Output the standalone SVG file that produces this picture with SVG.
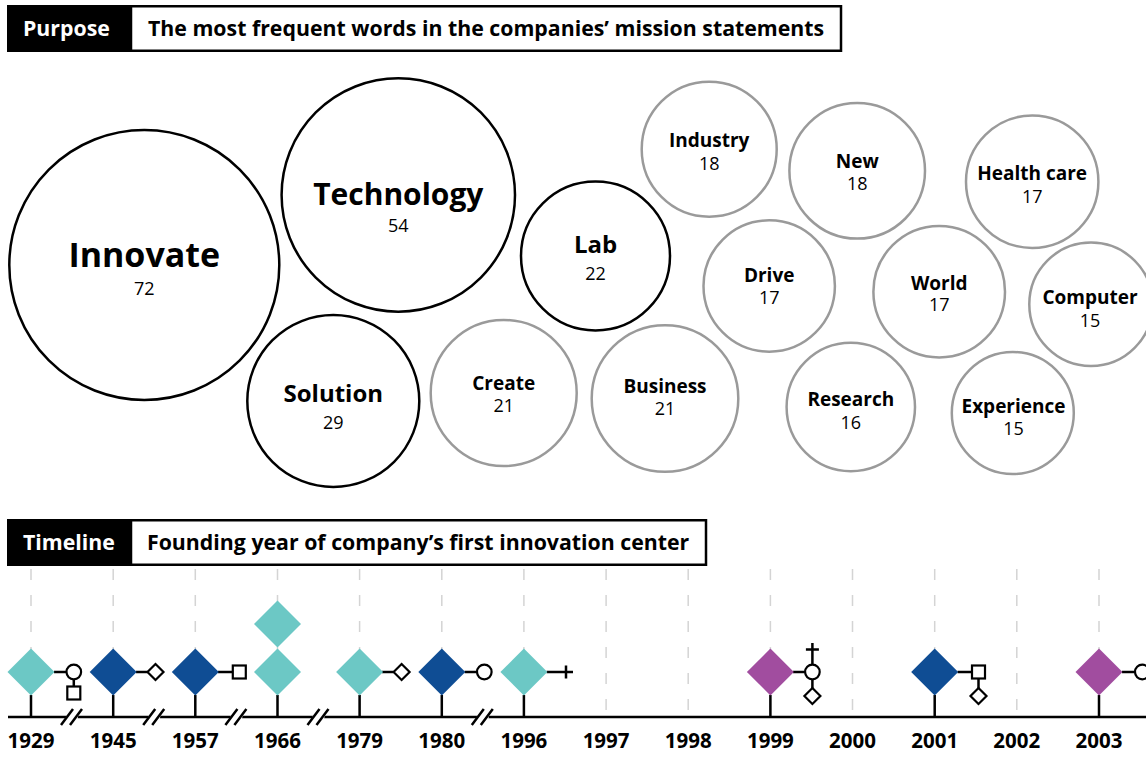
<svg xmlns="http://www.w3.org/2000/svg" xmlns:xlink="http://www.w3.org/1999/xlink" width="1146" height="763" viewBox="0 0 1146 763">
<style>
text{font-family:"Open Sans","Noto Sans","Liberation Sans",sans-serif;}
.lbl{font-weight:700;text-anchor:middle;fill:#000;}
.num{font-weight:400;font-size:18px;text-anchor:middle;fill:#000;}
.bk{fill:#fff;stroke:#000;stroke-width:2.5;}
.gy{fill:#fff;stroke:#9a9a9a;stroke-width:2.5;}
.hd{font-weight:700;font-size:21.3px;}
.yr{font-weight:700;font-size:20.5px;text-anchor:middle;fill:#000;}
.dash{stroke:#d4d4d4;stroke-width:1.5;stroke-dasharray:11 15;fill:none;}
.ln{stroke:#000;stroke-width:2.5;fill:none;}
.sym{fill:#fff;stroke:#000;stroke-width:2.2;}
.teal{fill:#6cc8c5;}
.blue{fill:#0f4d94;}
.purp{fill:#a14d9f;}
</style>
<defs>
<path id="dia" d="M0,-23.5L23.5,0L0,23.5L-23.5,0Z"/>
<path id="sdia" d="M0,-8L8,0L0,8L-8,0Z"/>
<g id="brk">
<path d="M-6,-4L6,-4L4,4L-8,4Z" fill="#fff" transform="translate(1,0)"/>
<path d="M-11,8L1,-8M-2,8L10,-8" stroke="#000" stroke-width="2.5"/>
</g>
</defs>
<rect width="1146" height="763" fill="#fff"/>

<g id="header-purpose">
<rect x="7" y="5" width="125" height="47" fill="#000"/>
<rect x="131" y="6.25" width="710" height="44.5" class="bk"/>
<text x="23" y="35.5" class="hd" fill="#fff">Purpose</text>
<text x="148" y="35.5" class="hd" fill="#000">The most frequent words in the companies’ mission statements</text>
</g>

<g id="bubble-innovate"><circle cx="144.3" cy="265" r="135" class="bk"/><text x="144.3" y="267" class="lbl" font-size="34">Innovate</text><text x="144.3" y="295" class="num">72</text></g>
<g id="bubble-technology"><circle cx="398.3" cy="195" r="116.7" class="bk"/><text x="398.3" y="205" class="lbl" font-size="30">Technology</text><text x="398.3" y="232" class="num">54</text></g>
<g id="bubble-solution"><circle cx="333.3" cy="401" r="86" class="bk"/><text x="333.3" y="402" class="lbl" font-size="24">Solution</text><text x="333.3" y="428.5" class="num">29</text></g>
<g id="bubble-lab"><circle cx="595.5" cy="256" r="74.5" class="bk"/><text x="595.5" y="253" class="lbl" font-size="24">Lab</text><text x="595.5" y="279.5" class="num">22</text></g>
<g id="bubble-industry"><circle cx="709.2" cy="149.2" r="67.5" class="gy"/><text x="709.2" y="147" class="lbl" font-size="19">Industry</text><text x="709.2" y="169.5" class="num">18</text></g>
<g id="bubble-new"><circle cx="857.2" cy="170.8" r="67.8" class="gy"/><text x="857.2" y="167.5" class="lbl" font-size="19">New</text><text x="857.2" y="190" class="num">18</text></g>
<g id="bubble-drive"><circle cx="769.2" cy="286" r="65.7" class="gy"/><text x="769.2" y="282" class="lbl" font-size="19">Drive</text><text x="769.2" y="303.5" class="num">17</text></g>
<g id="bubble-create"><circle cx="503.7" cy="393" r="73" class="gy"/><text x="503.7" y="390" class="lbl" font-size="19">Create</text><text x="503.7" y="412" class="num">21</text></g>
<g id="bubble-business"><circle cx="665" cy="398.5" r="73.3" class="gy"/><text x="665" y="393" class="lbl" font-size="19">Business</text><text x="665" y="415" class="num">21</text></g>
<g id="bubble-research"><circle cx="850.8" cy="407" r="64.2" class="gy"/><text x="850.8" y="406" class="lbl" font-size="19">Research</text><text x="850.8" y="428.5" class="num">16</text></g>
<g id="bubble-world"><circle cx="939.2" cy="291.7" r="65.8" class="gy"/><text x="939.2" y="289.5" class="lbl" font-size="19">World</text><text x="939.2" y="311" class="num">17</text></g>
<g id="bubble-healthcare"><circle cx="1032.2" cy="181.7" r="66.2" class="gy"/><text x="1032.2" y="180" class="lbl" font-size="19">Health care</text><text x="1032.2" y="203" class="num">17</text></g>
<g id="bubble-computer"><circle cx="1091" cy="304.3" r="61.7" class="gy"/><text x="1090" y="304" class="lbl" font-size="19">Computer</text><text x="1090" y="327" class="num">15</text></g>
<g id="bubble-experience"><circle cx="1012.8" cy="413" r="61" class="gy"/><text x="1013.5" y="413" class="lbl" font-size="19">Experience</text><text x="1013.5" y="435" class="num">15</text></g>

<g id="header-timeline">
<rect x="7" y="519" width="125" height="47" fill="#000"/>
<rect x="131" y="520.25" width="575" height="44.5" class="bk"/>
<text x="23" y="549.5" class="hd" fill="#fff">Timeline</text>
<text x="147" y="549.5" class="hd" fill="#000">Founding year of company’s first innovation center</text>
</g>

<g id="gridlines">
<line x1="31" y1="569" x2="31" y2="717" class="dash"/>
<line x1="113.2" y1="569" x2="113.2" y2="717" class="dash"/>
<line x1="195.3" y1="569" x2="195.3" y2="717" class="dash"/>
<line x1="277.5" y1="569" x2="277.5" y2="717" class="dash"/>
<line x1="359.6" y1="569" x2="359.6" y2="717" class="dash"/>
<line x1="441.8" y1="569" x2="441.8" y2="717" class="dash"/>
<line x1="523.9" y1="569" x2="523.9" y2="717" class="dash"/>
<line x1="606.1" y1="569" x2="606.1" y2="717" class="dash"/>
<line x1="688.2" y1="569" x2="688.2" y2="717" class="dash"/>
<line x1="770.4" y1="569" x2="770.4" y2="717" class="dash"/>
<line x1="852.5" y1="569" x2="852.5" y2="717" class="dash"/>
<line x1="934.7" y1="569" x2="934.7" y2="717" class="dash"/>
<line x1="1016.8" y1="569" x2="1016.8" y2="717" class="dash"/>
<line x1="1099" y1="569" x2="1099" y2="717" class="dash"/>
</g>

<g id="connectors">
<line x1="8" y1="717" x2="1146" y2="717" class="ln"/>
<use xlink:href="#brk" href="#brk" x="72" y="717"/>
<use xlink:href="#brk" href="#brk" x="154.2" y="717"/>
<use xlink:href="#brk" href="#brk" x="236.4" y="717"/>
<use xlink:href="#brk" href="#brk" x="318.5" y="717"/>
<use xlink:href="#brk" href="#brk" x="482.8" y="717"/>
<path class="ln" d="M31,695V717M113.2,695V717M195.3,695V717M277.5,695V717M359.6,695V717M441.8,695V717M523.9,695V717M770.4,695V717M934.7,695V717M1099,695V717"/>
<path class="ln" d="M54,672H66.7M73.8,679V686.5"/>
<path class="ln" d="M136,672H147.5"/>
<path class="ln" d="M218,672H232.8"/>
<path class="ln" d="M382,672H393.6"/>
<path class="ln" d="M464.5,672H477"/>
<path class="ln" d="M546.5,672H573M566,665.5V678.5"/>
<path class="ln" d="M793,672H805.1M812.4,664.7V643M805.9,649.5H818.9M812.4,679.3V688"/>
<path class="ln" d="M957.5,672H972M978.5,678.5V688"/>
<path class="ln" d="M1122,672H1135"/>
</g>

<g id="year-1929"><use href="#dia" x="31" y="672" class="teal"/><circle cx="73.8" cy="672" r="7.3" class="sym"/><rect x="67.3" y="686.5" width="13" height="13" class="sym"/><text x="31" y="748" class="yr">1929</text></g>
<g id="year-1945"><use href="#dia" x="113.2" y="672" class="blue"/><use href="#sdia" x="155.5" y="672" class="sym"/><text x="113.2" y="748" class="yr">1945</text></g>
<g id="year-1957"><use href="#dia" x="195.3" y="672" class="blue"/><rect x="232.8" y="665.5" width="13" height="13" class="sym"/><text x="195.3" y="748" class="yr">1957</text></g>
<g id="year-1966"><use href="#dia" x="277.5" y="624" class="teal"/><use href="#dia" x="277.5" y="672" class="teal"/><text x="277.5" y="748" class="yr">1966</text></g>
<g id="year-1979"><use href="#dia" x="359.6" y="672" class="teal"/><use href="#sdia" x="401.6" y="672" class="sym"/><text x="359.6" y="748" class="yr">1979</text></g>
<g id="year-1980"><use href="#dia" x="441.8" y="672" class="blue"/><circle cx="484.3" cy="672" r="7.3" class="sym"/><text x="441.8" y="748" class="yr">1980</text></g>
<g id="year-1996"><use href="#dia" x="523.9" y="672" class="teal"/><text x="523.9" y="748" class="yr">1996</text></g>
<g id="year-1997"><text x="606.1" y="748" class="yr">1997</text></g>
<g id="year-1998"><text x="688.2" y="748" class="yr">1998</text></g>
<g id="year-1999"><use href="#dia" x="770.4" y="672" class="purp"/><circle cx="812.4" cy="672" r="7.3" class="sym"/><use href="#sdia" x="812.4" y="696" class="sym"/><text x="770.4" y="748" class="yr">1999</text></g>
<g id="year-2000"><text x="852.5" y="748" class="yr">2000</text></g>
<g id="year-2001"><use href="#dia" x="934.7" y="672" class="blue"/><rect x="972" y="665.5" width="13" height="13" class="sym"/><use href="#sdia" x="978.5" y="696" class="sym"/><text x="934.7" y="748" class="yr">2001</text></g>
<g id="year-2002"><text x="1016.8" y="748" class="yr">2002</text></g>
<g id="year-2003"><use href="#dia" x="1099" y="672" class="purp"/><circle cx="1142.3" cy="672" r="7.3" class="sym"/><text x="1099" y="748" class="yr">2003</text></g>
</svg>
